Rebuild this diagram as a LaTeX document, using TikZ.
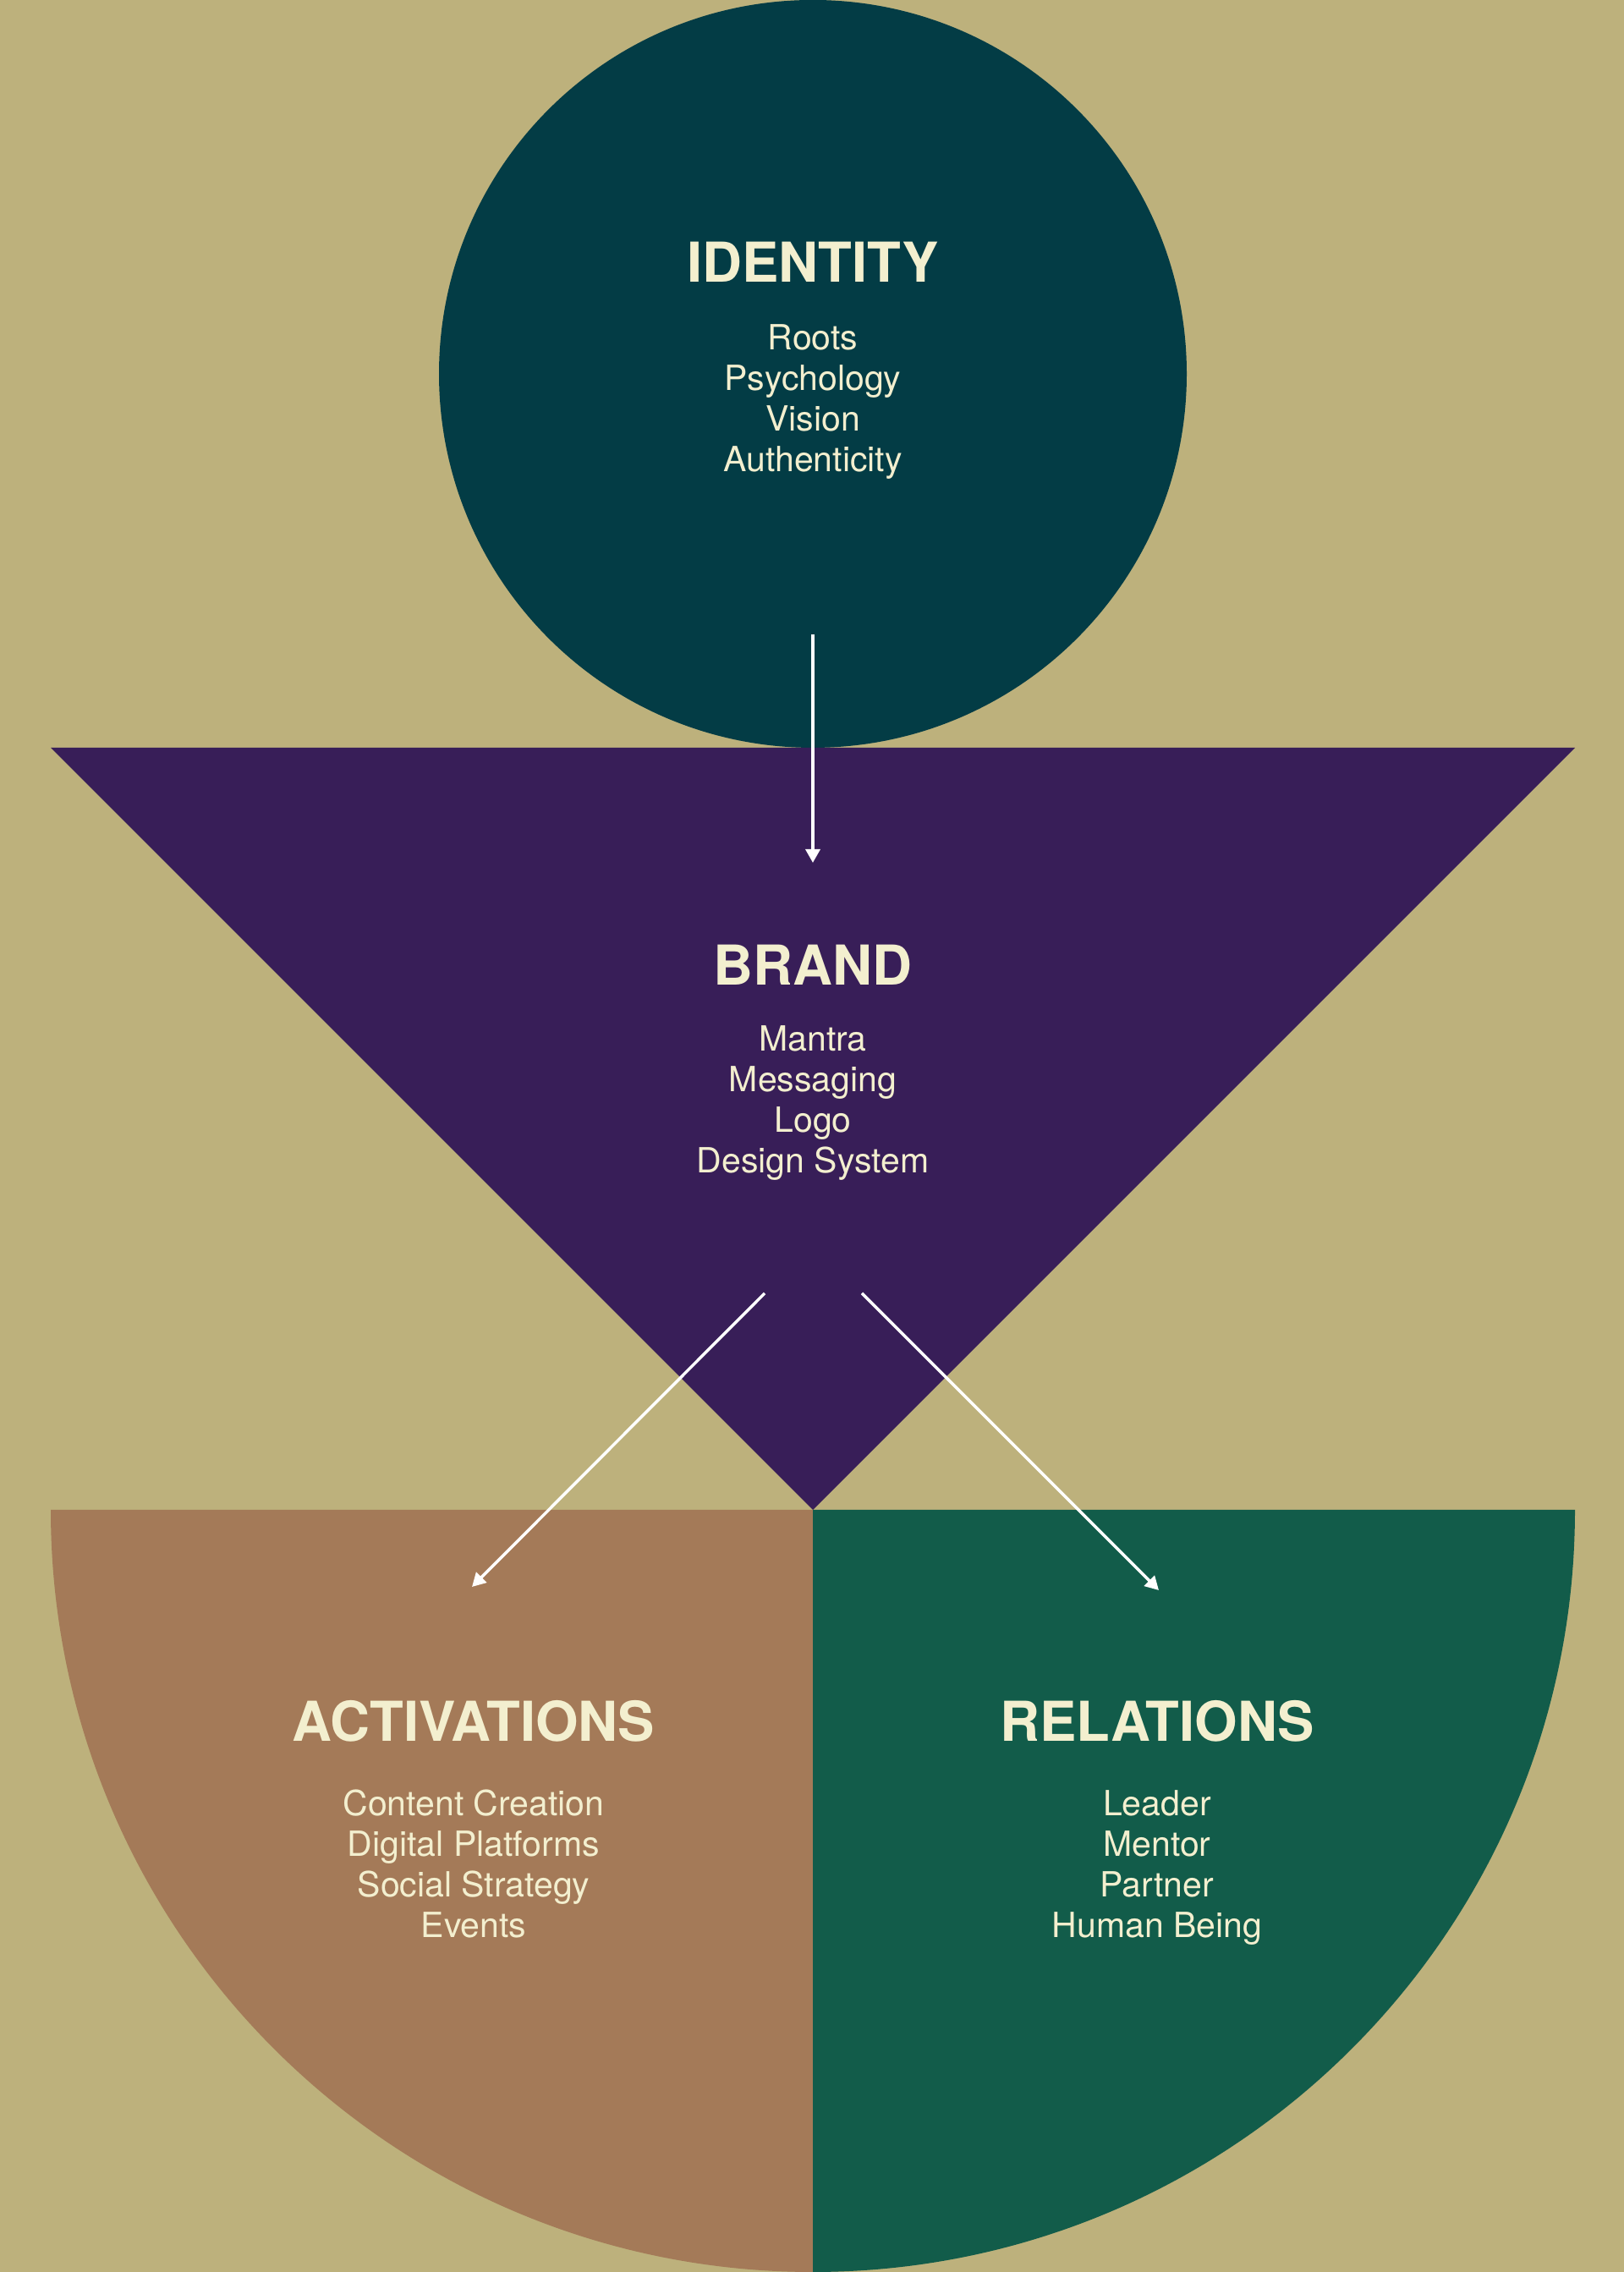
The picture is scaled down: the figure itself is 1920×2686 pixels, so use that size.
\documentclass[tikz,border=0pt]{standalone}
\usepackage{fontspec}
\setmainfont{TeX Gyre Heros}
\usetikzlibrary{arrows.meta}
\definecolor{bgkhaki}{HTML}{BDB17C}
\definecolor{tealdark}{HTML}{033C45}
\definecolor{purpledark}{HTML}{381E58}
\definecolor{brownwarm}{HTML}{A47A58}
\definecolor{greendeep}{HTML}{125C4A}
\definecolor{creamtext}{HTML}{F3EFCF}
\tikzset{
  titletext/.style={text=creamtext, font=\fontsize{32.5}{36}\selectfont\bfseries, inner sep=0pt, anchor=center},
  listtext/.style={text=creamtext, font=\fontsize{20.5}{24}\selectfont, align=center, inner sep=0pt, anchor=center},
  flowarrow/.style={draw=white, line width=1.75pt, -{Triangle[length=8pt,width=8.5pt]}}
}
\begin{document}
\begin{tikzpicture}[x=0.5pt,y=0.5pt]
\useasboundingbox (0,0) rectangle (1920,2686);
\fill[bgkhaki] (0,0) rectangle (1920,2686);
% identity circle
\fill[tealdark] (961,2244) circle[radius=442];
% brand triangle
\fill[purpledark] (60,1802) -- (1862,1802) -- (961,901) -- cycle;
% half disc
\fill[brownwarm] (961,901) -- (60,901) arc[start angle=180,end angle=270,radius=901] -- cycle;
\fill[greendeep] (961,901) -- (961,0) arc[start angle=270,end angle=360,radius=901] -- cycle;
% texts
\node[titletext] (idT) at (961,2376) {IDENTITY};
\node[listtext] (idL) at (961,2209.6) {\strut Roots\\\strut Psychology\\\strut Vision\\\strut Authenticity};
\node[titletext] (brT) at (961,1545) {BRAND};
\node[listtext] (brL) at (961,1380.6) {\strut Mantra\\\strut Messaging\\\strut Logo\\\strut Design System};
\node[titletext] (acT) at (560,651) {ACTIVATIONS};
\node[listtext] (acL) at (560,477) {\strut Content Creation\\\strut Digital Platforms\\\strut Social Strategy\\\strut Events};
\node[titletext] (reT) at (1368,651) {RELATIONS};
\node[listtext] (reL) at (1368,477) {\strut Leader\\\strut Mentor\\\strut Partner\\\strut Human Being};
% arrow ends
\coordinate (idOut) at (961,1936);
\coordinate (brIn) at (961,1666);
\coordinate (brOutL) at (904,1157);
\coordinate (acIn) at (558,810);
\coordinate (brOutR) at (1019,1157);
\coordinate (reIn) at (1370,806);
\draw[flowarrow] (idOut) -- (brIn);
\draw[flowarrow] (brOutL) -- (acIn);
\draw[flowarrow] (brOutR) -- (reIn);
\end{tikzpicture}
\end{document}
